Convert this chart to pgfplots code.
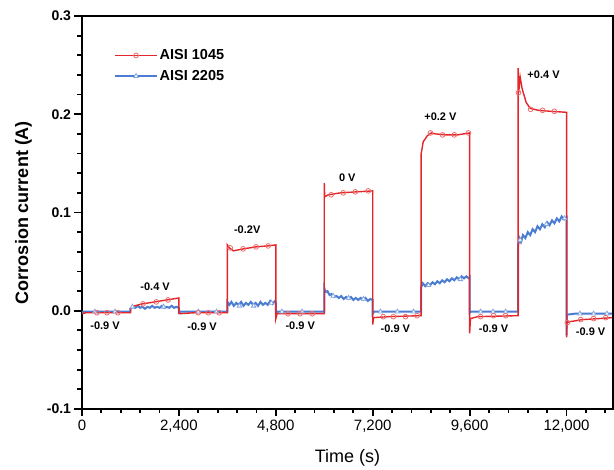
\documentclass[border=0pt]{standalone}
\usepackage{fontspec}
\setmainfont{Liberation Sans}
\usepackage{pgfplots}
\pgfplotsset{compat=1.18}
\usetikzlibrary{calc}

\definecolor{redline}{RGB}{228,38,42}
\definecolor{redmark}{RGB}{236,110,110}
\definecolor{blueline}{RGB}{74,124,210}
\definecolor{bluemark}{RGB}{130,165,225}

\begin{document}
\begin{tikzpicture}
\begin{axis}[
    name=ax,
    scale only axis,
    width=531pt, height=393pt,
    xmin=0, xmax=13150,
    ymin=-0.1, ymax=0.3,
    xtick={0,2400,4800,7200,9600,12000},
    ytick={-0.1,0,0.1,0.2,0.3},
    scaled x ticks=false,
    tick pos=left,
    tick align=outside,
    major tick length=7.5pt,
    tick style={draw=none},
    axis line style={line width=1.8pt},
    /pgf/number format/assume math mode=true,
    xticklabel style={font=\fontsize{15}{15}\selectfont,
        /pgf/number format/1000 sep={,}},
    yticklabel style={font=\bfseries\fontsize{14}{14}\selectfont,
        /pgf/number format/fixed, /pgf/number format/precision=1,
        /pgf/number format/fixed zerofill},
    xlabel={Time (s)},
    ylabel={Corrosion current (A)},
    xlabel style={font=\fontsize{18}{18}\selectfont,
        at={(axis description cs:0.5,-0.125)}, anchor=center},
    ylabel style={font=\bfseries\fontsize{18}{18}\selectfont,
        at={(axis description cs:-0.11,0.5)}, anchor=center},
    legend style={draw=none, fill=none,
        at={(axis description cs:0.055,0.925)}, anchor=north west,
        font=\bfseries\fontsize{14.5}{14.5}\selectfont,
        row sep=5pt},
    legend cell align=left,
    legend image code/.code={
        \draw[mark repeat=2,mark phase=2,#1]
        plot coordinates {(0pt,0pt) (21pt,0pt) (42pt,0pt)};},
]
\addlegendimage{redline, line width=1.3pt, mark=o,
    mark options={draw=redmark, fill=white, solid, line width=0.8pt}, mark size=2.4pt}
\addlegendentry{AISI 1045}
\addlegendimage{blueline, line width=1.3pt, mark=triangle*,
    mark options={draw=bluemark, fill=white, solid, line width=0.8pt}, mark size=2.6pt}
\addlegendentry{AISI 2205}

% AISI 2205
\addplot[blueline, line width=2pt, forget plot] coordinates {
(0,-0.003) (30,-0.001) (1200,-0.001)
(1200,0.002)(1260,0.004)(1320,0.003)(1380,0.005)(1440,0.003)(1500,0.004)(1560,0.002)(1620,0.004)(1680,0.003)(1740,0.005)(1800,0.003)(1860,0.004)(1920,0.003)(1980,0.005)(2040,0.003)(2100,0.004)(2160,0.003)(2220,0.005)(2280,0.003)(2340,0.004)(2400,0.003)
(2400,-0.002)(2440,-0.001)(3600,-0.001)
(3600,0.009)(3650,0.006)(3700,0.009)(3760,0.005)(3820,0.008)(3880,0.006)(3940,0.009)(4000,0.005)(4060,0.008)(4120,0.006)(4180,0.009)(4240,0.006)(4300,0.008)(4360,0.005)(4420,0.009)(4480,0.006)(4540,0.008)(4600,0.006)(4660,0.010)(4720,0.007)(4780,0.010)(4800,0.008)
(4800,-0.002)(4840,-0.001)(6000,-0.001)
(6000,0.023)(6030,0.019)(6080,0.020)(6130,0.016)(6180,0.017)(6240,0.014)(6300,0.015)(6360,0.013)(6420,0.015)(6480,0.012)(6540,0.014)(6600,0.012)(6660,0.014)(6720,0.011)(6780,0.013)(6840,0.011)(6900,0.013)(6960,0.011)(7020,0.013)(7080,0.010)(7140,0.012)(7200,0.011)
(7200,-0.003)(7230,-0.001)(8400,-0.001)
(8400,0.024)(8440,0.028)(8500,0.025)(8560,0.028)(8620,0.026)(8680,0.029)(8740,0.027)(8800,0.030)(8860,0.028)(8920,0.031)(8980,0.029)(9040,0.032)(9100,0.030)(9160,0.033)(9220,0.031)(9280,0.034)(9340,0.032)(9400,0.035)(9460,0.033)(9520,0.035)(9580,0.033)(9600,0.034)
(9600,-0.002)(9630,-0.001)(10800,-0.001)
(10800,0.066)(10830,0.074)(10870,0.070)(10920,0.077)(10980,0.074)(11040,0.080)(11100,0.077)(11160,0.083)(11220,0.080)(11280,0.086)(11340,0.083)(11400,0.088)(11460,0.085)(11520,0.090)(11580,0.087)(11640,0.092)(11700,0.089)(11760,0.094)(11820,0.091)(11880,0.096)(11940,0.093)(12000,0.095)
(12000,-0.025)(12010,-0.004)(12200,-0.003)(13130,-0.003)
};
\addplot[only marks, mark=triangle*, mark size=2.6pt, mark options={draw=bluemark, fill=white, line width=0.8pt}, forget plot] coordinates {
(320,-0.001)(820,-0.001)
(1250,0.004)(2020,0.004)
(2880,-0.001)(3330,-0.001)
(3900,0.005)(4250,0.005)(4690,0.008)
(4950,-0.001)(5450,-0.001)
(6220,0.015)(6600,0.013)(6970,0.012)
(7390,-0.001)(7810,-0.001)(8210,-0.001)
(8580,0.026)(9370,0.032)
(9870,-0.001)(10180,-0.001)(10490,-0.001)
(10850,0.072)(11500,0.088)(11950,0.094)
(12330,-0.003)(12670,-0.003)(13000,-0.003)
};

% AISI 1045
\addplot[redline, line width=1.4pt, forget plot] coordinates {
(10,-0.003)(100,-0.002)(1200,-0.002)
(1200,0.003)(1300,0.005)(1500,0.007)(1800,0.009)(2100,0.011)(2400,0.013)
(2400,-0.002)(2420,-0.003)(2800,-0.002)(3600,-0.002)
(3600,0.067)(3650,0.064)(3750,0.061)(4000,0.063)(4300,0.065)(4600,0.066)(4800,0.067)
(4800,-0.008)(4830,-0.003)(6000,-0.003)
(6000,0.130)(6010,0.116)(6100,0.118)(6400,0.120)(6800,0.121)(7200,0.122)
(7200,-0.014)(7220,-0.007)(7600,-0.006)(8400,-0.005)
(8400,0.160)(8450,0.172)(8550,0.178)(8650,0.181)(8750,0.180)(9000,0.179)(9300,0.179)(9600,0.181)
(9600,-0.023)(9620,-0.008)(9800,-0.006)(10800,-0.005)
(10800,0.247)(10815,0.222)(10850,0.238)(10900,0.226)(11000,0.212)(11100,0.206)(11300,0.204)(11600,0.203)(12000,0.202)
(12000,-0.027)(12010,-0.012)(12100,-0.011)(12400,-0.009)(12800,-0.008)(13130,-0.007)
};
\addplot[only marks, mark=o, mark size=2.4pt, mark options={draw=redmark, fill=white, line width=0.8pt}, forget plot] coordinates {
(370,-0.002)(620,-0.002)(890,-0.002)
(1510,0.007)(1840,0.009)(2130,0.011)
(2880,-0.002)(3130,-0.002)(3400,-0.002)
(3670,0.064)(3990,0.063)(4310,0.065)(4610,0.066)
(5100,-0.003)(5400,-0.003)(5700,-0.003)
(6170,0.118)(6470,0.120)(6770,0.121)(7090,0.122)
(7460,-0.006)(7710,-0.006)(8010,-0.006)(8300,-0.005)
(8630,0.181)(8930,0.179)(9220,0.179)(9570,0.181)
(9870,-0.006)(10190,-0.005)(10490,-0.005)
(10810,0.222)(11110,0.205)(11405,0.204)(11700,0.203)
(12020,-0.012)(12350,-0.009)(12670,-0.008)(12970,-0.007)
};

% step potentials
\begin{scope}[every node/.style={font=\bfseries\fontsize{11}{11}\selectfont}]
\node at (axis cs:1810,0.0244) {-0.4 V};
\node at (axis cs:4091,0.0827) {-0.2V};
\node at (axis cs:6571,0.1354) {0 V};
\node at (axis cs:8877,0.198) {+0.2 V};
\node at (axis cs:11430,0.240) {+0.4 V};
\node at (axis cs:570,-0.0153) {-0.9 V};
\node at (axis cs:2975,-0.0163) {-0.9 V};
\node at (axis cs:5405,-0.0153) {-0.9 V};
\node at (axis cs:7761,-0.0183) {-0.9 V};
\node at (axis cs:10191,-0.0183) {-0.9 V};
\node at (axis cs:12596,-0.0214) {-0.9 V};
\end{scope}
\end{axis}
% tick marks, outside the axis box (480 s and 0.02 A apart)
\foreach \k in {0,...,27} {
  \pgfmathsetmacro\len{ifthenelse(mod(\k,5)==0,7.5,4.5)}
  \draw[black, line width=1.8pt] ([xshift={\k*19.382pt}]ax.south west) -- ++(0pt,-\len pt);
}
\foreach \k in {0,...,20} {
  \pgfmathsetmacro\len{ifthenelse(mod(\k,5)==0,7.5,4.5)}
  \draw[black, line width=1.8pt] ([yshift={\k*19.65pt}]ax.south west) -- ++(-\len pt,0pt);
}
\path ($(ax.south west)+(-82pt,-59pt)$) rectangle ($(ax.north east)+(1pt,16pt)$);
\end{tikzpicture}
\end{document}
